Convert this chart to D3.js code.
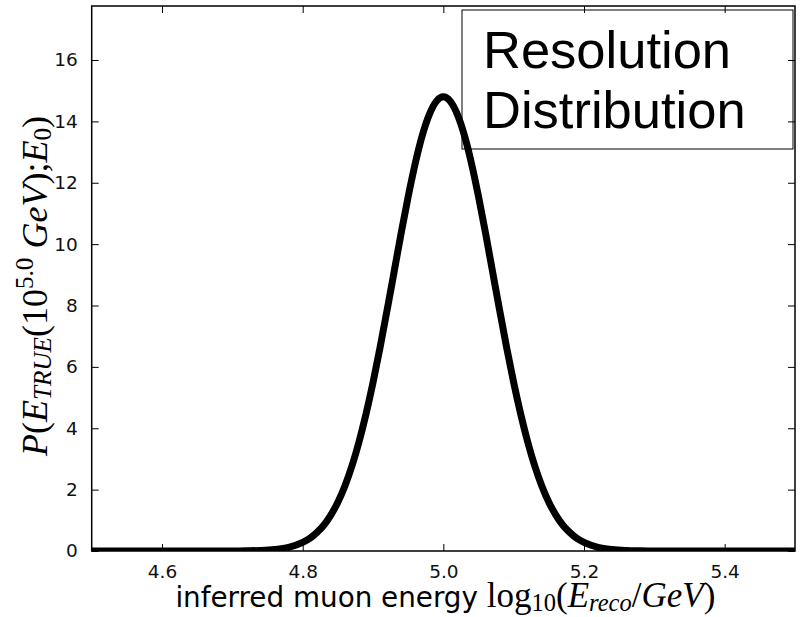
<!DOCTYPE html>
<html>
<head>
<meta charset="utf-8">
<script src="https://cdn.jsdelivr.net/npm/d3@7"></script>
<style>
  html, body { margin: 0; padding: 0; background: #fff; }
  svg { display: block; }
</style>
</head>
<body>
<svg id="chart" width="801" height="617"></svg>
<script>
// Reconstructed energy grid (log10 GeV) and resolution density at each point
const energy = [
  4.50, 4.60, 4.66, 4.70, 4.72, 4.74, 4.76, 4.78, 4.80, 4.81, 4.82, 4.83, 4.84,
  4.85, 4.86, 4.87, 4.88, 4.89, 4.90, 4.91, 4.92, 4.93, 4.94, 4.95, 4.96, 4.97,
  4.98, 4.99, 5.00, 5.01, 5.02, 5.03, 5.04, 5.05, 5.06, 5.07, 5.08, 5.09, 5.10,
  5.11, 5.12, 5.13, 5.14, 5.15, 5.16, 5.17, 5.18, 5.19, 5.20, 5.22, 5.24, 5.26,
  5.28, 5.30, 5.34, 5.40, 5.50
];
const density = [
  0.000, 0.000, 0.000, 0.002, 0.006, 0.018, 0.049, 0.12, 0.28, 0.41, 0.60, 0.84, 1.17,
  1.59, 2.12, 2.77, 3.55, 4.46, 5.49, 6.63, 7.85, 9.10, 10.36, 11.55, 12.63, 13.54,
  14.22, 14.65, 14.80, 14.65, 14.22, 13.54, 12.63, 11.55, 10.36, 9.10, 7.85, 6.63, 5.49,
  4.46, 3.55, 2.77, 2.12, 1.59, 1.17, 0.84, 0.60, 0.41, 0.28, 0.12, 0.049, 0.018,
  0.006, 0.002, 0.000, 0.000, 0.000
];

const xTicks = [4.6, 4.8, 5.0, 5.2, 5.4];
const yTicks = [0, 2, 4, 6, 8, 10, 12, 14, 16];
const xDomain = [4.5, 5.5];
const yDomain = [0, 17.76];
const boxLines = ["Resolution", "Distribution"];

const plot = { left: 91.7, right: 795, top: 6, bottom: 551 };

const svg = d3.select("#chart");

const x = d3.scaleLinear().domain(xDomain).range([plot.left, plot.right]);
const y = d3.scaleLinear().domain(yDomain).range([plot.bottom, plot.top]);

const tickFont = "'DejaVu Sans', sans-serif";
const mathFont = "'Liberation Serif', 'DejaVu Serif', serif";

svg.append("defs").append("clipPath").attr("id", "plot-clip")
  .append("rect")
  .attr("x", plot.left).attr("y", plot.top)
  .attr("width", plot.right - plot.left).attr("height", plot.bottom - plot.top);

// Label box in the upper right
const box = svg.append("g");
box.append("rect")
  .attr("x", 462).attr("y", 10).attr("width", 331).attr("height", 139)
  .attr("fill", "none").attr("stroke", "#000").attr("stroke-width", 1);
box.selectAll("text").data(boxLines).join("text")
  .attr("x", 483)
  .attr("y", (d, i) => 68 + i * 60)
  .style("font-family", "'Liberation Sans', Arial, sans-serif")
  .style("font-size", "52.5px")
  .attr("fill", "#000")
  .text(d => d);

// Density curve
const line = d3.line()
  .x((d, i) => x(energy[i]))
  .y(d => y(d))
  .curve(d3.curveMonotoneX);

svg.append("path")
  .datum(density)
  .attr("clip-path", "url(#plot-clip)")
  .attr("fill", "none")
  .attr("stroke", "#000")
  .attr("stroke-width", 7)
  .attr("stroke-linejoin", "round")
  .attr("d", line);

// Axes: inward ticks on all four sides
const tickLen = 7;
const axisBottom = d3.axisBottom(x).tickValues(xTicks).tickFormat(d3.format(".1f"))
  .tickSizeInner(-tickLen).tickSizeOuter(0).tickPadding(tickLen + 7);
const axisTop = d3.axisTop(x).tickValues(xTicks).tickFormat("")
  .tickSizeInner(-tickLen).tickSizeOuter(0);
const axisLeft = d3.axisLeft(y).tickValues(yTicks).tickFormat(d3.format("d"))
  .tickSizeInner(-tickLen).tickSizeOuter(0).tickPadding(tickLen + 7);
const axisRight = d3.axisRight(y).tickValues(yTicks).tickFormat("")
  .tickSizeInner(-tickLen).tickSizeOuter(0);

function styleAxis(g) {
  g.select(".domain").remove();
  g.attr("font-size", null).attr("font-family", null);
  g.selectAll(".tick line").attr("stroke", "#000").attr("stroke-width", 1);
  g.selectAll(".tick text")
    .style("font-family", tickFont)
    .style("font-size", "18.5px")
    .attr("fill", "#111");
}

svg.append("g").attr("transform", `translate(0,${plot.bottom})`).call(axisBottom).call(styleAxis);
svg.append("g").attr("transform", `translate(0,${plot.top})`).call(axisTop).call(styleAxis);
svg.append("g").attr("transform", `translate(${plot.left},0)`).call(axisLeft).call(styleAxis);
svg.append("g").attr("transform", `translate(${plot.right},0)`).call(axisRight).call(styleAxis);

// Frame
svg.append("rect")
  .attr("x", plot.left).attr("y", plot.top)
  .attr("width", plot.right - plot.left).attr("height", plot.bottom - plot.top)
  .attr("fill", "none").attr("stroke", "#000").attr("stroke-width", 1.5);

// Helper: append a run of text pieces with optional italic/sub/superscript
function appendRuns(textSel, runs, baseSize) {
  let shift = 0;
  runs.forEach(r => {
    const size = r.size || baseSize;
    const target = r.sub ? size * 0.12 : r.sup ? -size * 0.4 : 0;
    textSel.append("tspan")
      .attr("dy", target - shift)
      .style("font-family", r.font || mathFont)
      .style("font-style", r.italic ? "italic" : "normal")
      .style("font-size", ((r.sub || r.sup) ? size * 0.7 : size) + "px")
      .text(r.t);
    shift = target;
  });
}

// X axis title
const xTitle = svg.append("text")
  .attr("x", (plot.left + plot.right) / 2 + 2)
  .attr("y", 607)
  .attr("text-anchor", "middle")
  .attr("fill", "#000");
appendRuns(xTitle, [
  { t: "inferred muon energy ", font: tickFont, size: 27.8 },
  { t: "log" },
  { t: "10", sub: true },
  { t: "(" },
  { t: "E", italic: true },
  { t: "reco", italic: true, sub: true },
  { t: "/" },
  { t: "GeV", italic: true },
  { t: ")" }
], 35);

// Y axis title
const yTitle = svg.append("text")
  .attr("transform", `translate(47,286) rotate(-90)`)
  .attr("text-anchor", "middle")
  .attr("fill", "#000");
appendRuns(yTitle, [
  { t: "P", italic: true },
  { t: "(" },
  { t: "E", italic: true },
  { t: "TRUE", italic: true, sub: true },
  { t: "(10" },
  { t: "5.0", sup: true },
  { t: " " },
  { t: "GeV", italic: true },
  { t: ");" },
  { t: "E", italic: true },
  { t: "0", sub: true },
  { t: ")" }
], 36);
</script>
</body>
</html>
